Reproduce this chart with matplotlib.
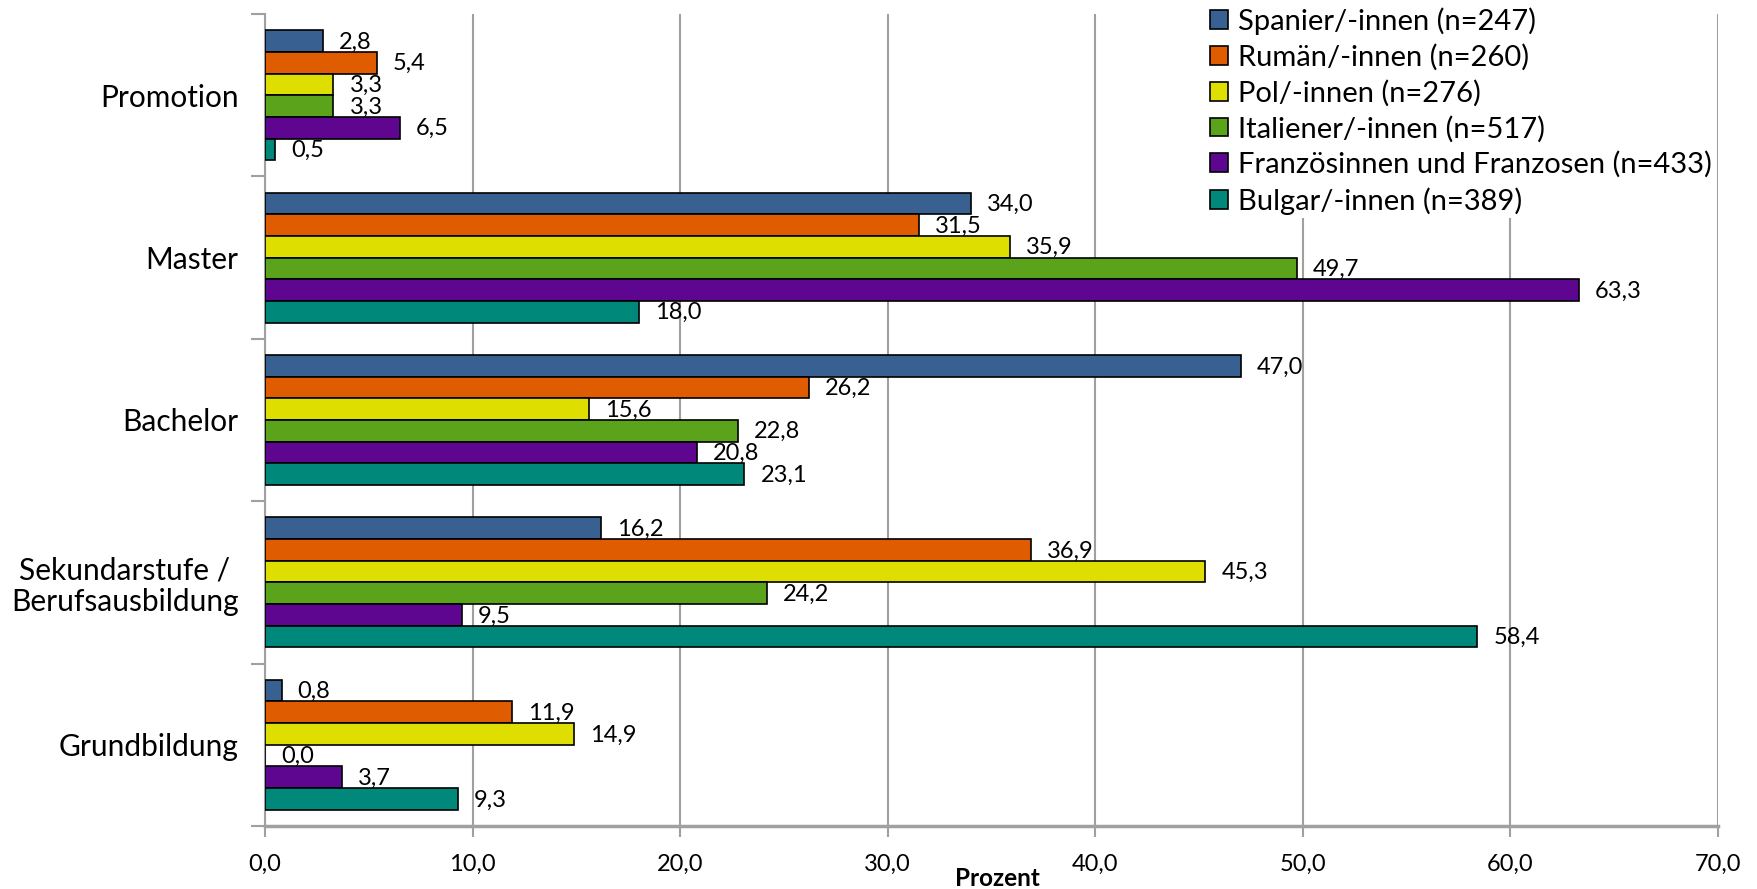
import matplotlib
matplotlib.use("Agg")
import matplotlib.pyplot as plt
from matplotlib.patches import Patch
import numpy as np

plt.rcParams['font.family'] = ['Lato', 'DejaVu Sans']

categories = ["Promotion", "Master", "Bachelor", "Sekundarstufe /\nBerufsausbildung", "Grundbildung"]
series_names = ["Spanier/-innen (n=247)", "Rumän/-innen (n=260)", "Pol/-innen (n=276)",
                "Italiener/-innen (n=517)", "Französinnen und Franzosen (n=433)", "Bulgar/-innen (n=389)"]
spanier = [2.8, 34.0, 47.0, 16.2, 0.8]
rumaen = [5.4, 31.5, 26.2, 36.9, 11.9]
polen = [3.3, 35.9, 15.6, 45.3, 14.9]
italiener = [3.3, 49.7, 22.8, 24.2, 0.0]
franzosen = [6.5, 63.3, 20.8, 9.5, 3.7]
bulgaren = [0.5, 18.0, 23.1, 58.4, 9.3]
series = [spanier, rumaen, polen, italiener, franzosen, bulgaren]
colors = ["#386192", "#E05C00", "#DEDE00", "#5BA31A", "#5E068F", "#00897A"]
xticks = [0, 10, 20, 30, 40, 50, 60, 70]

W, H = 1758, 889
fig = plt.figure(figsize=(W / 100, H / 100), dpi=100)
ax = fig.add_axes([265 / W, 63 / H, (1718 - 265) / W, (826 - 14) / H])

n = len(series)
h = 0.8 / n
ypos = np.arange(len(categories))
for j, (vals, c) in enumerate(zip(series, colors)):
    y = ypos + (j - (n - 1) / 2) * h
    ax.barh(y, vals, height=h, color=c, edgecolor="black", linewidth=1.2, zorder=3)
    for yy, v in zip(y, vals):
        ax.annotate(f"{v:.1f}".replace(".", ","), (v, yy), xytext=(16, -1),
                    textcoords="offset pixels", ha="left", va="center",
                    fontsize=17, color="black", zorder=4)

ax.set_xlim(0, 70)
ax.set_ylim(len(categories) - 0.5, -0.5)
ax.set_xticks(xticks)
ax.set_xticklabels([f"{t:.1f}".replace(".", ",") for t in xticks], fontsize=17)
ax.set_yticks(np.arange(-0.5, len(categories), 1.0))
ax.set_yticklabels([])
ax.set_yticks(ypos, minor=True)
ax.set_yticklabels(categories, minor=True, fontsize=21.5, ha="right", multialignment="center",
                   linespacing=1.15)
ax.tick_params(axis="y", which="minor", length=0, pad=19)
ax.tick_params(axis="y", which="major", length=10, width=1.5, color="#A0A0A0")
ax.tick_params(axis="x", which="major", length=8, width=1.5, color="#A0A0A0", pad=12)

ax.grid(axis="x", color="#A0A0A0", linewidth=1.5, zorder=0)
for s in ["top", "right"]:
    ax.spines[s].set_visible(False)
ax.spines["left"].set_color("#A0A0A0")
ax.spines["left"].set_linewidth(1.5)
ax.spines["bottom"].set_color("#A0A0A0")
ax.spines["bottom"].set_linewidth(2.5)

fig.text(997 / W, 1 - 879 / H, "Prozent", ha="center", va="center", fontsize=17.5, fontweight="bold")

handles = [Patch(facecolor=c, edgecolor="black", linewidth=1.2) for c in colors]
leg = fig.legend(handles, series_names, loc="upper left", bbox_to_anchor=(1207 / W, 1 - 4 / H),
                 frameon=True, facecolor="white", edgecolor="none", framealpha=1,
                 borderpad=0.1, borderaxespad=0, fontsize=21, handlelength=0.62, handleheight=0.62,
                 handletextpad=0.35, labelspacing=0.31)
leg.set_zorder(10)

fig.savefig("out.png", dpi=100)
